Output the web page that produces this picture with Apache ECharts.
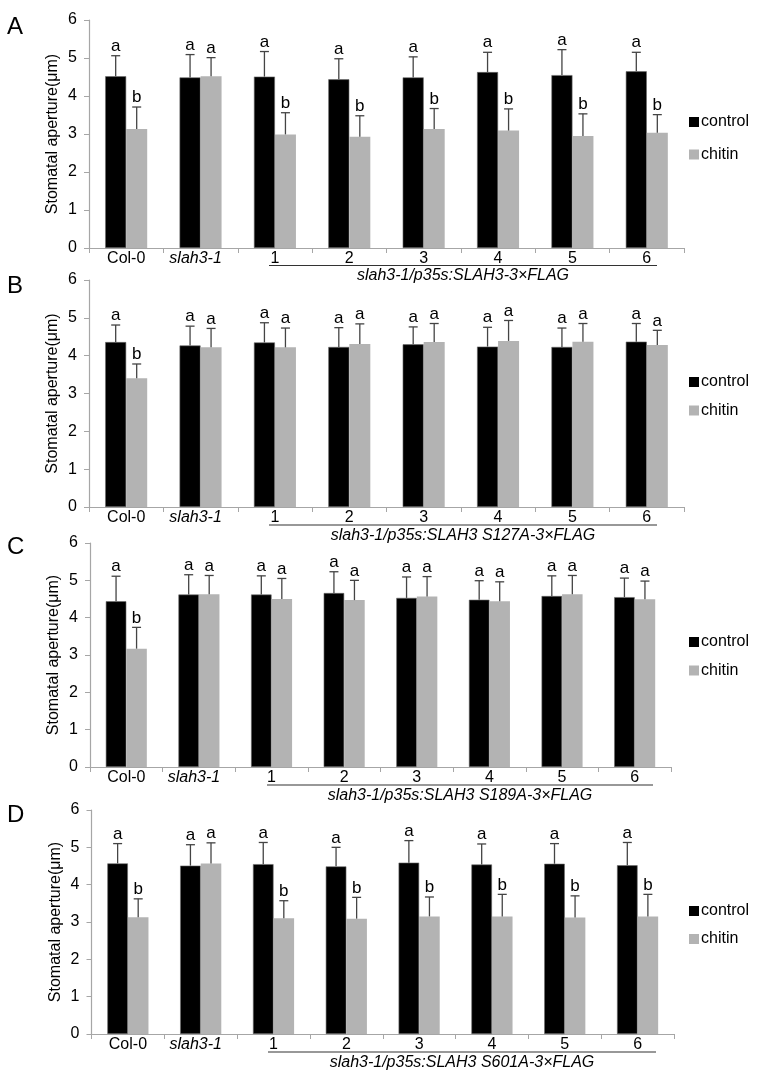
<!DOCTYPE html>
<html>
<head>
<meta charset="utf-8">
<script src="https://cdn.jsdelivr.net/npm/echarts@6/dist/echarts.min.js"></script>
<style>html,body{margin:0;padding:0;background:#fff}#c{width:777px;height:1081px}</style>
</head>
<body>
<div id="c"></div>
<script>
const categories = ['Col-0','slah3-1','1','2','3','4','5','6'];
const yTicks = [0,1,2,3,4,5,6];
const seriesNames = ['control','chitin'];
const panelLabels = ['A','B','C','D'];
const subtitles = ['slah3-1/p35s:SLAH3-3×FLAG','slah3-1/p35s:SLAH3 S127A-3×FLAG','slah3-1/p35s:SLAH3 S189A-3×FLAG','slah3-1/p35s:SLAH3 S601A-3×FLAG'];

const controlA = [4.52,4.49,4.51,4.44,4.49,4.63,4.55,4.65];
const controlSdA = [0.54,0.60,0.66,0.54,0.54,0.52,0.67,0.50];
const chitinA = [3.13,4.52,2.99,2.93,3.13,3.09,2.95,3.03];
const chitinSdA = [0.58,0.49,0.57,0.55,0.54,0.57,0.58,0.48];
const controlLetA = ['a','a','a','a','a','a','a','a'];
const chitinLetA = ['b','a','b','b','b','b','b','b'];

const controlB = [4.36,4.27,4.35,4.23,4.30,4.24,4.23,4.37];
const controlSdB = [0.45,0.51,0.52,0.51,0.46,0.51,0.50,0.48];
const chitinB = [3.40,4.22,4.22,4.31,4.36,4.39,4.37,4.28];
const chitinSdB = [0.38,0.50,0.51,0.53,0.49,0.54,0.48,0.39];
const controlLetB = ['a','a','a','a','a','a','a','a'];
const chitinLetB = ['b','a','a','a','a','a','a','a'];

const controlC = [4.44,4.62,4.62,4.66,4.53,4.48,4.58,4.55];
const controlSdC = [0.67,0.53,0.50,0.57,0.56,0.51,0.54,0.51];
const chitinC = [3.17,4.63,4.50,4.47,4.57,4.44,4.63,4.49];
const chitinSdC = [0.57,0.50,0.55,0.53,0.53,0.52,0.50,0.49];
const controlLetC = ['a','a','a','a','a','a','a','a'];
const chitinLetC = ['b','a','a','a','a','a','a','a'];

const controlD = [4.57,4.51,4.55,4.49,4.59,4.54,4.56,4.52];
const controlSdD = [0.53,0.56,0.58,0.51,0.59,0.55,0.54,0.61];
const chitinD = [3.13,4.57,3.10,3.09,3.15,3.15,3.12,3.15];
const chitinSdD = [0.49,0.55,0.47,0.57,0.52,0.59,0.58,0.59];
const controlLetD = ['a','a','a','a','a','a','a','a'];
const chitinLetD = ['b','a','b','b','b','b','b','b'];

const panels = [
  {c:controlA, cs:controlSdA, h:chitinA, hs:chitinSdA, cl:controlLetA, hl:chitinLetA},
  {c:controlB, cs:controlSdB, h:chitinB, hs:chitinSdB, cl:controlLetB, hl:chitinLetB},
  {c:controlC, cs:controlSdC, h:chitinC, hs:chitinSdC, cl:controlLetC, hl:chitinLetC},
  {c:controlD, cs:controlSdD, h:chitinD, hs:chitinSdD, cl:controlLetD, hl:chitinLetD}
];

// layout
const grids = [
  {left:89, right:93, top:20, height:228},
  {left:89, right:93, top:280, height:227},
  {left:90, right:106, top:543, height:224},
  {left:91.5, right:103, top:810, height:224}
];
const legendTops = [109, 369, 629, 898];
const legendGaps = [16.5, 12.5, 12.5, 12];
const labelTops = [15, 274, 535, 803];
const subLines = [
  {x1:269, x2:657, y:265.5, ty:276},
  {x1:269, x2:657, y:525, ty:535.5},
  {x1:267, x2:653, y:785, ty:795.5},
  {x1:268, x2:656, y:1052, ty:1063}
];
const COLORS = ['#000000','#b3b3b3'];
const GAP = 0.435;
const FONT = 'Liberation Sans, Arial, sans-serif';

const chart = echarts.init(document.getElementById('c'));

const xAxis = [], yAxis = [], series = [], legend = [], graphic = [];
grids.forEach((g, i) => {
  xAxis.push({
    type:'category', gridIndex:i, data:categories,
    axisLine:{lineStyle:{color:'#a6a6a6', width:1.2}},
    axisTick:{show:true, length:5, interval:0, lineStyle:{color:'#a6a6a6'}},
    axisLabel:{color:'#000', fontSize:16, fontFamily:FONT, margin:3, interval:0,
      formatter: v => v === 'slah3-1' ? '{it|' + v + '}' : v,
      rich:{it:{fontStyle:'italic', fontSize:16, fontFamily:FONT, color:'#000', padding:[0,10,0,0]}}}
  });
  yAxis.push({
    type:'value', gridIndex:i, min:yTicks[0], max:yTicks[yTicks.length-1], interval:1,
    name:'Stomatal aperture(μm)', nameLocation:'middle', nameGap:28, nameMoveOverlap:false,
    nameTextStyle:{color:'#000', fontSize:16, fontFamily:FONT},
    axisLine:{show:true, lineStyle:{color:'#a6a6a6', width:1.2}},
    axisTick:{show:true, length:5, lineStyle:{color:'#a6a6a6'}},
    axisLabel:{color:'#000', fontSize:16, fontFamily:FONT, margin:12},
    splitLine:{show:false}
  });
  const p = panels[i];
  const vals = [p.c, p.h], sds = [p.cs, p.hs], lets = [p.cl, p.hl];
  [0,1].forEach(s => {
    series.push({
      type:'bar', name:seriesNames[s], xAxisIndex:i, yAxisIndex:i,
      data:vals[s], barGap:'0%', barCategoryGap:(GAP*100)+'%',
      itemStyle:{color:COLORS[s], borderColor: s===0 ? '#6b6b6b' : COLORS[s], borderWidth: s===0 ? 0.6 : 0},
      animation:false
    });
  });
  [0,1].forEach(s => {
    series.push({
      type:'custom', name:'err'+s, xAxisIndex:i, yAxisIndex:i, z:5,
      data: categories.map((c, k) => [k, vals[s][k], vals[s][k] + sds[s][k], lets[s][k]]),
      renderItem: (params, api) => {
        const k = api.value(0);
        const base = api.coord([k, api.value(1)]);
        const tp = api.coord([k, api.value(2)]);
        const band = api.size([1, 0])[0];
        const bw = band * (1 - GAP) / 2;
        const cx = base[0] + (s === 0 ? -bw/2 : bw/2);
        const letter = lets[s][k];
        return {type:'group', children:[
          {type:'line', shape:{x1:cx, y1:base[1], x2:cx, y2:tp[1]}, style:{stroke:'#444', lineWidth:1.3}},
          {type:'line', shape:{x1:cx-4.5, y1:tp[1], x2:cx+4.5, y2:tp[1]}, style:{stroke:'#444', lineWidth:1.3}},
          {type:'text', x:cx, y:tp[1]-1, style:{text:letter, fill:'#000', font:'17px ' + FONT, textAlign:'center', textVerticalAlign:'bottom'}}
        ]};
      },
      animation:false
    });
  });
  legend.push({
    orient:'vertical', left:684, top:legendTops[i], data:seriesNames,
    icon:'rect', itemWidth:10, itemHeight:10, itemGap:legendGaps[i],
    itemStyle:{borderWidth:0},
    textStyle:{color:'#000', fontSize:16, fontFamily:FONT, padding:[0,0,0,-3]},
    selectedMode:false
  });
  graphic.push({type:'text', left:7, top:labelTops[i], style:{text:panelLabels[i], fill:'#000', font:'24px ' + FONT}});
  const L = subLines[i];
  graphic.push({type:'line', shape:{x1:L.x1, y1:L.y, x2:L.x2, y2:L.y}, style:{stroke:'#333', lineWidth:1.2}});
  graphic.push({type:'text', x:(L.x1+L.x2)/2, y:L.ty, style:{text:subtitles[i], fill:'#000', font:'italic 16px ' + FONT, textAlign:'center', textVerticalAlign:'middle'}});
});

chart.setOption({
  animation:false,
  grid: grids.map(g => Object.assign({containLabel:false}, g)),
  xAxis, yAxis, series, legend, graphic
});
</script>
</body>
</html>
